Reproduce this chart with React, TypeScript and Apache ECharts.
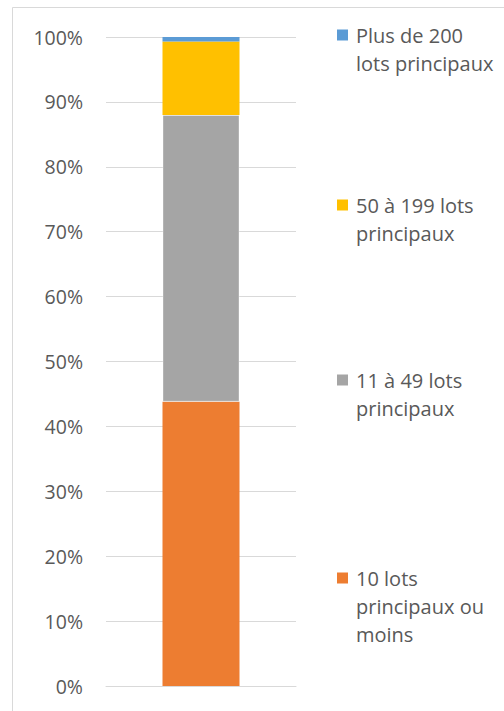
import React, { useEffect, useRef } from "react";
import * as echarts from "echarts";

const categories = [""];
const seriesNames = [
  "10 lots principaux ou moins",
  "11 à 49 lots principaux",
  "50 à 199 lots principaux",
  "Plus de 200 lots principaux",
];
const legendLines = [
  "10 lots\nprincipaux ou\nmoins",
  "11 à 49 lots\nprincipaux",
  "50 à 199 lots\nprincipaux",
  "Plus de 200\nlots principaux",
];
const seriesColors = ["#ED7D31", "#A5A5A5", "#FFC000", "#5B9BD5"];
const values10 = [43.8];
const values11 = [44.2];
const values50 = [11.3];
const values200 = [0.7];
const seriesValues = [values10, values11, values50, values200];
const legendCenters = [578, 380, 205, 35];

export default function App() {
  const ref = useRef<HTMLDivElement>(null);
  useEffect(() => {
    if (!ref.current) return;
    const chart = echarts.init(ref.current, null, { renderer: "svg" });
    const font = "'Open Sans', sans-serif";
    const graphic: any[] = [
      {
        type: "rect",
        shape: { x: 12.5, y: 7.5, width: 520, height: 720 },
        style: { fill: "none", stroke: "#D9D9D9", lineWidth: 1 },
        silent: true,
      },
    ];
    legendLines.forEach((t, i) => {
      const c = legendCenters[i];
      graphic.push({
        type: "rect",
        shape: { x: 337, y: c - 5.5, width: 11, height: 11 },
        style: { fill: seriesColors[i] },
      });
      graphic.push({
        type: "text",
        x: 356,
        y: c - 14,
        style: {
          text: t,
          font: `20px ${font}`,
          fill: "#595959",
          lineHeight: 28,
          verticalAlign: "top",
          align: "left",
        },
      });
    });
    chart.setOption({
      animation: false,
      grid: { left: 106, right: 208, top: 37, bottom: 25, containLabel: false },
      xAxis: {
        type: "category",
        data: categories,
        axisLine: { show: true, lineStyle: { color: "#D9D9D9" } },
        axisTick: { show: false },
        axisLabel: { show: false },
      },
      yAxis: {
        type: "value",
        min: 0,
        max: 100,
        interval: 10,
        axisLine: { show: false },
        axisTick: { show: false },
        axisLabel: {
          formatter: "{value}%",
          color: "#595959",
          fontSize: 19.5,
          fontFamily: font,
          margin: 23,
        },
        splitLine: { lineStyle: { color: "#D9D9D9", width: 1 } },
      },
      series: seriesNames.map((name, i) => ({
        name,
        type: "bar",
        stack: "total",
        data: seriesValues[i],
        barWidth: 77,
        itemStyle: {
          color: seriesColors[i],
          borderColor: i === 1 ? "rgba(255,255,255,0.35)" : undefined,
          borderWidth: i === 1 ? 1 : 0,
        },
      })),
      graphic,
    });
    return () => chart.dispose();
  }, []);
  return (
    <div
      ref={ref}
      style={{ position: "fixed", left: 0, top: 0, width: 504, height: 711, background: "#fff" }}
    />
  );
}
